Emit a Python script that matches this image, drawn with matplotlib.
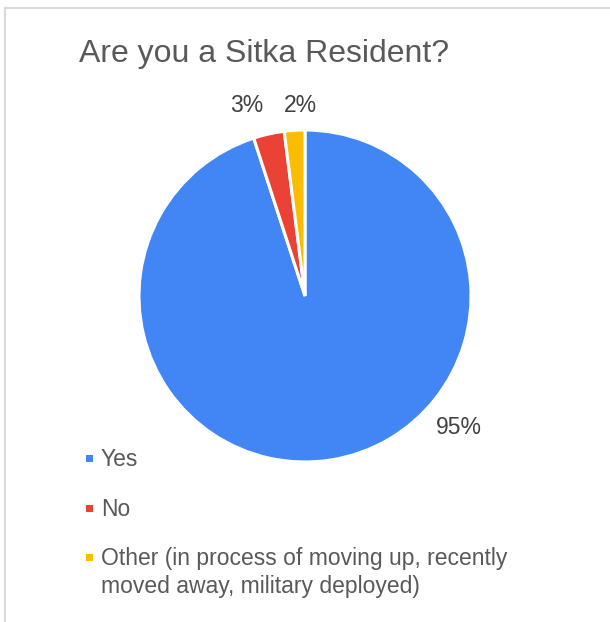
import matplotlib.pyplot as plt
import numpy as np
from matplotlib.patches import Rectangle

plt.rcParams['font.family'] = ['Liberation Sans', 'DejaVu Sans']

# respuestas de la encuesta
categorias = ['Yes', 'No',
              'Other (in process of moving up, recently\nmoved away, military deployed)']
porcentajes = [95, 3, 2]
colores = ['#4285F4', '#EA4335', '#FBBC04']

# posición de cada etiqueta: ángulo (grados) y distancia al centro
etiqueta_angulo = [-40.6, 107, 91.5]
etiqueta_dist = [1.22, 1.20, 1.15]

W, H = 610, 622
fig = plt.figure(figsize=(W/100, H/100), dpi=100)

# marco gris del gráfico
fig.patches.append(Rectangle((5/W, -0.05), 1.1, 1 - 8/H + 0.05,
                             transform=fig.transFigure, fill=False,
                             edgecolor='#d9d9d9', linewidth=1.5))

cx, cy, r = 305, 296, 166
ax = fig.add_axes([(cx - r)/W, (H - cy - r)/H, 2*r/W, 2*r/H])
cuñas, _ = ax.pie(porcentajes, colors=colores, startangle=90, counterclock=False,
                  radius=1, wedgeprops=dict(edgecolor='white', linewidth=2.2))
ax.set_xlim(-1, 1)
ax.set_ylim(-1, 1)
ax.axis('off')

for p, ang, d in zip(porcentajes, etiqueta_angulo, etiqueta_dist):
    t = np.radians(ang)
    ax.text(d*np.cos(t), d*np.sin(t), f'{p}%', ha='center', va='center',
            fontsize=16.5, color='#404040', clip_on=False)

fig.text(264.5/W, 1 - 54/H, 'Are you a Sitka Resident?', ha='center', va='center',
         fontsize=23, color='#595959')

# leyenda: cuadrito alineado con la primera línea de cada texto
y = 466          # línea base de la primera entrada, en píxeles desde arriba
for cat, c in zip(categorias, colores):
    fig.patches.append(Rectangle((86/W, 1 - (y - 4)/H), 7/W, 7/H,
                                 transform=fig.transFigure, color=c, lw=0))
    for linea in cat.split('\n'):
        fig.text(101/W, 1 - y/H, linea, ha='left', va='baseline',
                 fontsize=16.5, color='#595959')
        y += 28.5
    y += 21

fig.savefig('out.png', dpi=100, facecolor='white')
